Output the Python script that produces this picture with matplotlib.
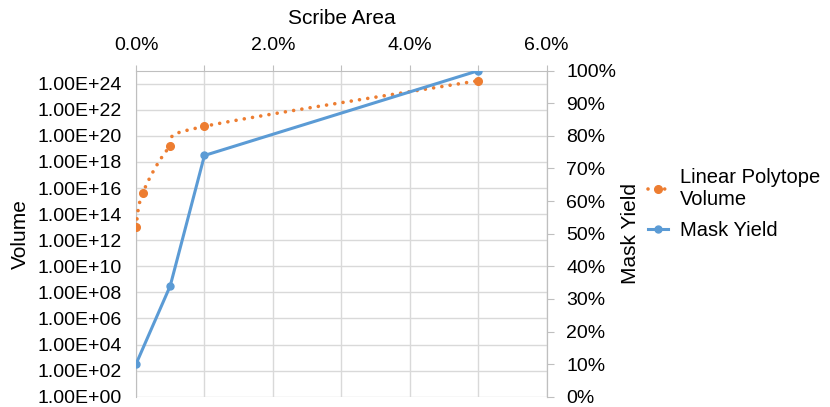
import numpy as np
import matplotlib.pyplot as plt

plt.rcParams['font.family'] = ['Liberation Sans', 'DejaVu Sans']

# data
scribe_vol = [0.0, 0.1, 0.5, 1.0, 5.0]              # % scribe area
volume = [1.0e13, 4.5e15, 1.6e19, 5.4e20, 1.7e24]    # linear polytope volume
scribe_yield = [0.0, 0.5, 1.0, 5.0]
mask_yield = [10, 34, 74, 100]                       # %

x_ticks = [0, 1, 2, 3, 4, 5, 6]
vol_exp = list(range(0, 25, 2))
vol_labels = ['1.00E+%02d' % e for e in vol_exp]
yield_ticks = list(range(0, 101, 10))
yield_labels = ['%d%%' % v for v in yield_ticks]

orange = '#ED7D31'
blue = '#5B9BD5'
grid_c = '#D9D9D9'
axis_c = '#BFBFBF'

fig = plt.figure(figsize=(8.3, 4.07), dpi=100)
L, R, T, B = 136, 546.7, 70.7, 396.7
ax = fig.add_axes([L / 830, 1 - B / 407, (R - L) / 830, (B - T) / 407])
ax2 = ax.twinx()

ax.set_xlim(0, 6)
ax.set_yscale('log')
ax.set_ylim(1, 1e25)
ax2.set_ylim(0, 100)

# grid lines
ax.set_xticks(x_ticks)
ax.set_xticklabels(['%.1f%%' % v if v % 2 == 0 else '' for v in x_ticks])
ax.set_yticks([10.0 ** e for e in vol_exp])
ax.set_yticklabels(vol_labels)
ax.yaxis.set_minor_locator(plt.NullLocator())
ax.grid(True, color=grid_c, lw=1.0)
ax.set_axisbelow(True)

ax.xaxis.tick_top()
ax.tick_params(axis='x', which='major', length=4, color=axis_c, pad=8,
               labelsize=14, top=True, bottom=False)
ax.tick_params(axis='y', length=0, pad=10, labelsize=14)
ax.spines['bottom'].set_visible(False)
for s in ['top', 'left', 'right']:
    ax.spines[s].set_color(axis_c)
for s in ['top', 'bottom', 'left']:
    ax2.spines[s].set_visible(False)
ax2.spines['right'].set_color(axis_c)

ax2.set_yticks(yield_ticks)
ax2.set_yticklabels(yield_labels)
ax2.tick_params(axis='y', length=5, color=axis_c, pad=9, labelsize=14)

# smoothed orange curve (Catmull-Rom through the points in display space)
pts = ax.transData.transform(np.column_stack([scribe_vol, volume]))
p = np.vstack([pts[0], pts, pts[-1]])
curve = []
t = np.linspace(0, 1, 60)[:, None]
for i in range(1, len(p) - 2):
    p0, p1, p2, p3 = p[i - 1], p[i], p[i + 1], p[i + 2]
    c1 = p1 + (p2 - p0) / 6
    c2 = p2 - (p3 - p1) / 6
    seg = ((1 - t) ** 3) * p1 + 3 * ((1 - t) ** 2) * t * c1 + 3 * (1 - t) * t ** 2 * c2 + t ** 3 * p2
    curve.append(seg)
curve = ax.transData.inverted().transform(np.vstack(curve))

ax.plot(curve[:, 0], curve[:, 1], color=orange, lw=2.6, linestyle=(0, (0.01, 2.3)),
        dash_capstyle='round', zorder=3)
ax.plot(scribe_vol, volume, 'o', color=orange, ms=5.5, zorder=4)
# legend proxy for the dotted series
h1, = ax.plot([], [], color=orange, lw=2.6, linestyle=(0, (0.01, 2.3)),
              dash_capstyle='round', marker='o', ms=5.5, label='Linear Polytope\nVolume')

h2, = ax2.plot(scribe_yield, mask_yield, color=blue, lw=2.2, marker='o', ms=5,
               label='Mask Yield', zorder=3)

ax.set_xlabel('Scribe Area', fontsize=15)
ax.xaxis.set_label_position('top')
ax.xaxis.set_label_coords(0.5, 1 + (T - 18.5) / (B - T))
ax.xaxis.label.set_va('center')
ax.set_ylabel('Volume', fontsize=15)
ax.yaxis.set_label_coords(-(L - 20) / (R - L), 0.5)
ax.yaxis.label.set_va('center')
ax2.set_ylabel('Mask Yield', fontsize=15)
ax2.yaxis.set_label_coords(1 + (630 - R) / (R - L), 0.5)
ax2.yaxis.label.set_va('center')

fig.legend(handles=[h1, h2], loc='center left', bbox_to_anchor=(648 / 830, 1 - 204 / 407),
           frameon=False, fontsize=14.5, handlelength=1.0, handletextpad=0.6,
           borderpad=0, borderaxespad=0, labelspacing=0.6)

fig.savefig('out.png', dpi=100)
